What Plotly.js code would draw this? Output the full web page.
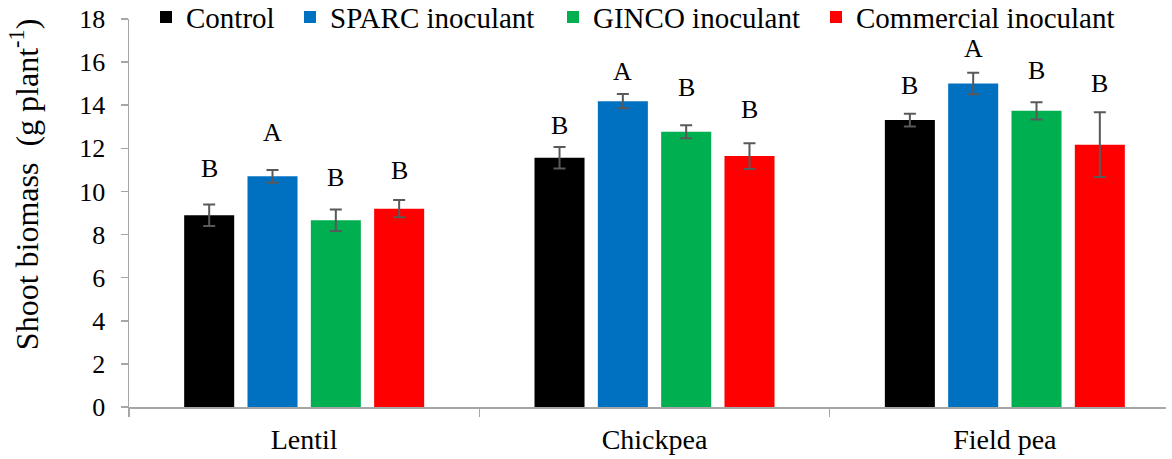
<!DOCTYPE html>
<html>
<head>
<meta charset="utf-8">
<script src="https://cdn.plot.ly/plotly-3.0.1.min.js"></script>
<style>
  html, body { margin: 0; padding: 0; background: #ffffff; overflow: hidden; }
  #chart { width: 1172px; height: 459px; }
</style>
</head>
<body>
<div id="chart"></div>
<script>
// ---- data ----
const crops = ["Lentil", "Chickpea", "Field pea"];
const seriesNames = ["Control", "SPARC inoculant", "GINCO inoculant", "Commercial inoculant"];
const seriesColors = ["#000000", "#0070C0", "#00B050", "#FF0000"];

const controlVals    = [8.9, 11.56, 13.31];
const sparcVals      = [10.7, 14.19, 15.01];
const gincoVals      = [8.66, 12.77, 13.74];
const commercialVals = [9.2, 11.64, 12.17];

const controlErr    = [0.5, 0.5, 0.3];
const sparcErr      = [0.3, 0.33, 0.5];
const gincoErr      = [0.5, 0.3, 0.4];
const commercialErr = [0.4, 0.6, 1.5];

// significance letters and the height (in y units) where each is printed
const controlLetters    = ["B", "B", "B"];
const sparcLetters      = ["A", "A", "A"];
const gincoLetters      = ["B", "B", "B"];
const commercialLetters = ["B", "B", "B"];

const controlLetterY    = [11.08, 13.08, 14.93];
const sparcLetterY      = [12.75, 15.55, 16.64];
const gincoLetterY      = [10.67, 14.8, 15.6];
const commercialLetterY = [10.99, 13.78, 15.0];

const yTickVals = [0, 2, 4, 6, 8, 10, 12, 14, 16, 18];

// ---- build ----
const allVals = [controlVals, sparcVals, gincoVals, commercialVals];
const allErr = [controlErr, sparcErr, gincoErr, commercialErr];
const allLetters = [controlLetters, sparcLetters, gincoLetters, commercialLetters];
const allLetterY = [controlLetterY, sparcLetterY, gincoLetterY, commercialLetterY];

const FONT = "Liberation Serif";
const BARGAP = 0.277;
const BARGROUPGAP = 0.21;
const legendIds = ["legend", "legend2", "legend3", "legend4"];
const legendLeftPx = [146, 290, 553, 816];   // left edge of each legend entry, px in the page
const PLOT_L = 129, PLOT_W = 1172 - 129 - 6;

const traces = seriesNames.map((name, i) => ({
  type: "bar",
  name: name,
  x: crops,
  y: allVals[i],
  legend: legendIds[i],
  marker: { color: seriesColors[i], line: { width: 0 } },
  error_y: { type: "data", array: allErr[i], visible: true, color: "#595959", thickness: 2, width: 6 },
  hoverinfo: "x+y+name"
}));

const annotations = [];
const nS = seriesNames.length;
for (let s = 0; s < nS; s++) {
  for (let c = 0; c < crops.length; c++) {
    const off = (s - (nS - 1) / 2) * (1 - BARGAP) / nS;
    annotations.push({
      x: c + off, xref: "x", y: allLetterY[s][c], yref: "y",
      text: allLetters[s][c], showarrow: false,
      font: { family: FONT, size: 26, color: "#000000" },
      xanchor: "center", yanchor: "middle"
    });
  }
}
annotations.push({
  xref: "paper", yref: "paper", x: -0.101, y: 0.575,
  text: "Shoot biomass  (g plant<sup>-1</sup>)",
  textangle: -90, showarrow: false,
  font: { family: FONT, size: 32, color: "#000000" },
  xanchor: "center", yanchor: "middle"
});

const layout = {
  width: 1172, height: 459,
  margin: { l: 129, r: 6, t: 19, b: 52, pad: 0, autoexpand: false },
  paper_bgcolor: "#ffffff", plot_bgcolor: "#ffffff",
  barmode: "group",
  bargap: BARGAP,
  bargroupgap: BARGROUPGAP,
  font: { family: FONT, color: "#000000" },
  showlegend: true,
  xaxis: {
    type: "category",
    range: [-0.5, 2.46],
    showline: true, linecolor: "#a6a6a6", linewidth: 1.5,
    ticks: "outside", tickson: "boundaries", ticklen: 8, tickcolor: "#a6a6a6", tickwidth: 1.5,
    ticklabelstandoff: 7,
    tickfont: { family: FONT, size: 28, color: "#000000" },
    showgrid: false, zeroline: false, fixedrange: true
  },
  yaxis: {
    range: [0, 18],
    tickvals: yTickVals,
    ticktext: yTickVals.map(String),
    showline: true, linecolor: "#a6a6a6", linewidth: 1.5,
    ticks: "outside", ticklen: 7, tickcolor: "#a6a6a6", tickwidth: 1.5,
    ticklabelstandoff: 10,
    tickfont: { family: FONT, size: 26, color: "#000000" },
    showgrid: false, zeroline: false, fixedrange: true
  },
  annotations: annotations
};

legendIds.forEach((id, i) => {
  layout[id] = {
    orientation: "h",
    x: (legendLeftPx[i] - PLOT_L) / PLOT_W, xanchor: "left",
    y: 1.005, yanchor: "middle",
    font: { family: FONT, size: 29, color: "#000000" },
    bgcolor: "rgba(0,0,0,0)"
  };
});

Plotly.newPlot("chart", traces, layout, { displayModeBar: false, staticPlot: true });
</script>
</body>
</html>
